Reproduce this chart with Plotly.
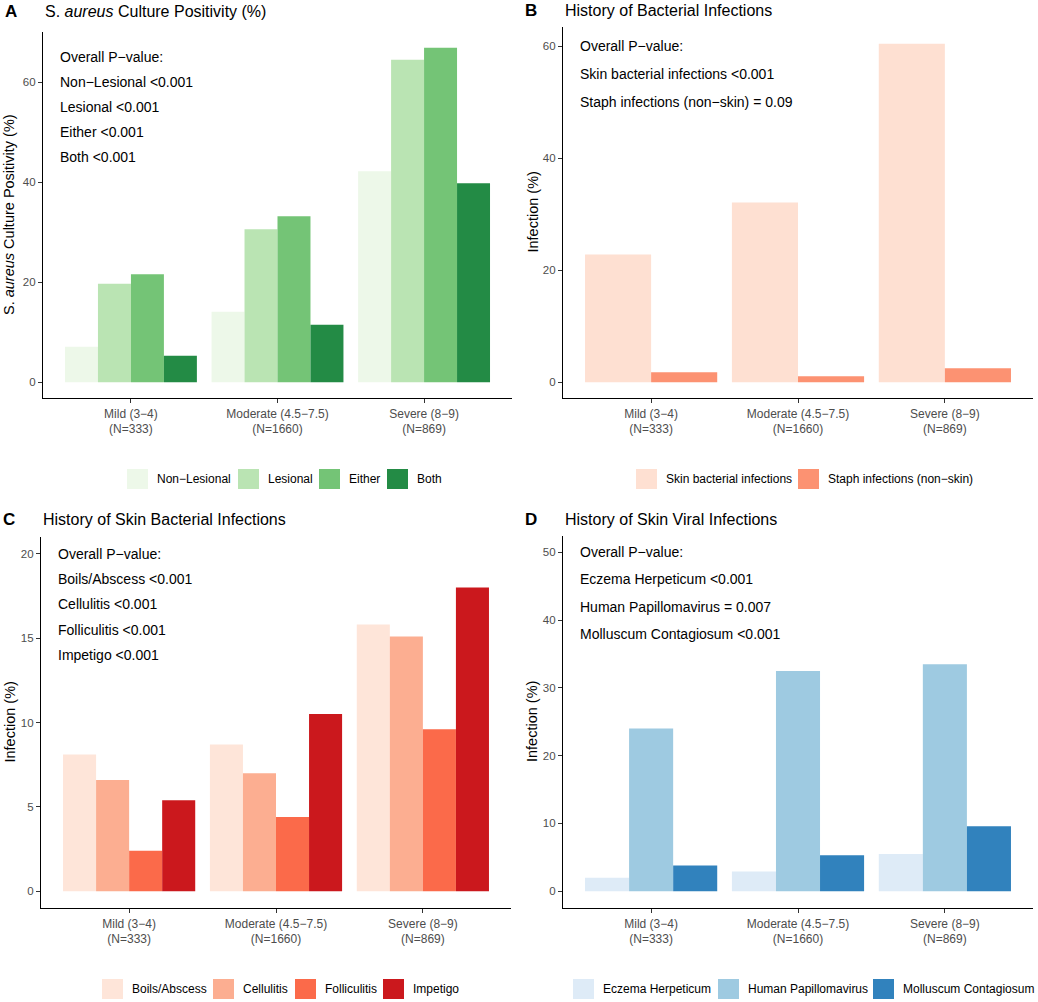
import plotly.graph_objects as go

W, H = 1038, 1002

# x categories (AD severity groups)
severity = ["Mild (3−4)", "Moderate (4.5−7.5)", "Severe (8−9)"]
group_n = ["(N=333)", "(N=1660)", "(N=869)"]

# A: S. aureus culture positivity (%)
culture_names = ["Non−Lesional", "Lesional", "Either", "Both"]
non_lesional = [7.1, 14.1, 42.2]
lesional = [19.7, 30.6, 64.5]
either = [21.6, 33.2, 66.9]
both = [5.3, 11.5, 39.8]
culture_pvals = ["Overall P−value:", "Non−Lesional <0.001", "Lesional <0.001",
                 "Either <0.001", "Both <0.001"]

# B: history of bacterial infections (%)
bacterial_names = ["Skin bacterial infections", "Staph infections (non−skin)"]
skin_bacterial = [22.8, 32.1, 60.4]
staph_non_skin = [1.8, 1.1, 2.5]
bacterial_pvals = ["Overall P−value:", "Skin bacterial infections <0.001",
                   "Staph infections (non−skin) = 0.09"]

# C: history of skin bacterial infections (%)
skin_bact_names = ["Boils/Abscess", "Cellulitis", "Folliculitis", "Impetigo"]
boils = [8.1, 8.7, 15.8]
cellulitis = [6.6, 7.0, 15.1]
folliculitis = [2.4, 4.4, 9.6]
impetigo = [5.4, 10.5, 18.0]
skin_bact_pvals = ["Overall P−value:", "Boils/Abscess <0.001", "Cellulitis <0.001",
                   "Folliculitis <0.001", "Impetigo <0.001"]

# D: history of skin viral infections (%)
viral_names = ["Eczema Herpeticum", "Human Papillomavirus", "Molluscum Contagiosum"]
eczema_herpeticum = [2.0, 2.9, 5.5]
papillomavirus = [24.0, 32.5, 33.5]
molluscum = [3.8, 5.3, 9.6]
viral_pvals = ["Overall P−value:", "Eczema Herpeticum <0.001",
               "Human Papillomavirus = 0.007", "Molluscum Contagiosum <0.001"]

FONT = "Liberation Sans, Arial, sans-serif"
xlabels = [f"{s}<br>{n}" for s, n in zip(severity, group_n)]


def px(x):
    return x / W


def py(y):
    return 1 - y / H


fig = go.Figure()
shapes = []
annotations = []


def add_panel(i, letter, title, ytitle, names, series, colors, pvals, p_y,
              xdom, ydom, yrange, ticks, title_y, legend_x, legend_y, ytitle_x):
    """Adds one bar panel with its annotations and a ggplot-style legend."""
    xa, ya = ('x', 'y') if i == 1 else (f'x{i}', f'y{i}')
    for name, vals, col in zip(names, series, colors):
        fig.add_trace(go.Bar(x=severity, y=vals, name=name, marker_color=col,
                             marker_line_width=0, showlegend=False,
                             xaxis=xa, yaxis=ya))
    axis = dict(showline=True, linecolor='black', linewidth=1.2, ticks='outside',
                ticklen=4, tickcolor='#333333', showgrid=False, zeroline=False,
                fixedrange=True)
    fig.layout[f'xaxis{"" if i == 1 else i}'] = dict(
        axis, domain=[px(xdom[0]), px(xdom[1])], anchor=ya, type='category',
        range=[-0.6, 2.6], tickvals=severity, ticktext=xlabels,
        tickfont=dict(size=12, color='#4D4D4D', family=FONT))
    fig.layout[f'yaxis{"" if i == 1 else i}'] = dict(
        axis, domain=[py(ydom[1]), py(ydom[0])], anchor=xa, range=yrange,
        tickvals=ticks, tickfont=dict(size=11.5, color='#4D4D4D', family=FONT))

    # panel letter + title
    annotations.append(dict(text=f"<b>{letter}</b>", x=px(xdom[0] - 40), y=py(title_y),
                            xref='paper', yref='paper', xanchor='left', yanchor='middle',
                            showarrow=False, font=dict(size=17, color='black')))
    annotations.append(dict(text=title, x=px(xdom[0]), y=py(title_y),
                            xref='paper', yref='paper', xanchor='left', yanchor='middle',
                            showarrow=False, font=dict(size=16, color='black')))
    # y axis title
    annotations.append(dict(text=ytitle, x=px(ytitle_x), y=py((ydom[0] + ydom[1]) / 2),
                            xref='paper', yref='paper', xanchor='center', yanchor='middle',
                            textangle=-90, showarrow=False,
                            font=dict(size=14.5, color='black')))
    # p-value text (placed in data coordinates like geom_text)
    for txt, yy in zip(pvals, p_y):
        annotations.append(dict(text=txt, x=-0.5, y=yy, xref=xa, yref=ya,
                                xanchor='left', yanchor='middle', showarrow=False,
                                font=dict(size=14, color='black')))
    # legend keys
    for name, col, lx in zip(names, colors, legend_x):
        shapes.append(dict(type='rect', xref='paper', yref='paper',
                           x0=px(lx), x1=px(lx + 21), y0=py(legend_y + 10),
                           y1=py(legend_y - 10), fillcolor=col, line=dict(width=0)))
        annotations.append(dict(text=name, x=px(lx + 28), y=py(legend_y),
                                xref='paper', yref='paper', xanchor='left',
                                yanchor='middle', showarrow=False,
                                font=dict(size=12, color='black')))


add_panel(1, "A", "S. <i>aureus</i> Culture Positivity (%)",
          "S. <i>aureus</i> Culture Positivity (%)",
          culture_names, [non_lesional, lesional, either, both],
          ['#EDF8E9', '#BAE4B3', '#74C476', '#238B45'],
          culture_pvals, [65, 60, 55, 50, 45],
          (43, 512), (32, 398), [-3.14, 70.06], [0, 20, 40, 60], 12,
          [127, 238, 319, 387], 479, 9)

add_panel(2, "B", "History of Bacterial Infections", "Infection (%)",
          bacterial_names, [skin_bacterial, staph_non_skin],
          ['#FEE0D2', '#FC9272'],
          bacterial_pvals, [60, 55, 50],
          (563, 1033), (27, 398), [-2.8, 63.4], [0, 20, 40, 60], 11,
          [636, 798], 479, 532)

add_panel(3, "C", "History of Skin Bacterial Infections", "Infection (%)",
          skin_bact_names, [boils, cellulitis, folliculitis, impetigo],
          ['#FEE5D9', '#FCAE91', '#FB6A4A', '#CB181D'],
          skin_bact_pvals, [20, 18.5, 17, 15.5, 14],
          (41, 511), (537, 908), [-0.99, 20.99], [0, 5, 10, 15, 20], 519,
          [102, 213, 295, 383], 989, 9)

add_panel(4, "D", "History of Skin Viral Infections", "Infection (%)",
          viral_names, [eczema_herpeticum, papillomavirus, molluscum],
          ['#DEEBF7', '#9ECAE1', '#3182BD'],
          viral_pvals, [50, 46, 42, 38],
          (563, 1033), (536, 908), [-2.47, 52.4], [0, 10, 20, 30, 40, 50], 519,
          [573, 718, 873], 989, 532)

fig.update_layout(width=W, height=H, margin=dict(l=0, r=0, t=0, b=0),
                  barmode='group', bargap=0.1, bargroupgap=0,
                  plot_bgcolor='white', paper_bgcolor='white',
                  font=dict(family=FONT, color='black'),
                  shapes=shapes, annotations=annotations)

# the page's default 8px body margin would push the figure off the window
fig.write_html("out.html", config={'displayModeBar': False},
               post_script="document.body.style.margin='0px';")
